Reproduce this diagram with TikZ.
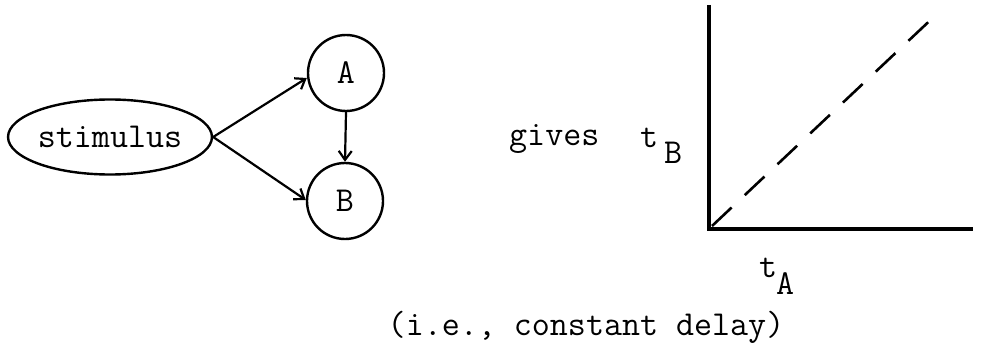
\documentclass[tikz,border=0pt]{standalone}
\usepackage{fontspec}
\usetikzlibrary{shapes.geometric,arrows.meta}
\begin{document}
\begin{tikzpicture}[x=1pt,y=-1pt,
  txt/.style={font=\ttfamily\fontsize{35}{40}\selectfont, inner sep=0pt},
  circ/.style={txt, draw, circle, line width=2.4pt, minimum size=76pt},
  oval/.style={txt, draw, ellipse, line width=2.4pt, minimum width=196pt, minimum height=75pt},
  conn/.style={line width=2.2pt, -{Straight Barb[length=9pt,width=13pt,line width=2.2pt]}},
  axis/.style={line width=3.4pt},
  diag/.style={line width=2.6pt, dash pattern=on 27pt off 18pt}]
\useasboundingbox (0,0) rectangle (981,350);
\node[oval] (stim) at (110,137) {stimulus};
\node[circ] (A) at (346,73) {A};
\node[circ] (B) at (345,201) {B};
\draw[conn] (stim.east) -- (A.west |- 0,78);
\draw[conn] (stim.east) -- (B.west |- 0,200);
\draw[conn] (A.south) -- (B.north);
\node[txt, anchor=base west] (gives) at (509,145) {gives};
\node[txt, anchor=base west] (tB) at (640,147) {t};
\node[txt, anchor=base west] (sB) at (664,163) {B};
\coordinate (O) at (709,229);
\coordinate (ytop) at (709,5);
\coordinate (xend) at (973,229);
\draw[axis] (ytop) -- (O) -- (xend);
\coordinate (d0) at (712,226);
\coordinate (d1) at (939,12);
\draw[diag] (d0) -- (d1);
\node[txt, anchor=base west] (tA) at (759,277) {t};
\node[txt, anchor=base west] (sA) at (776,294) {A};
\node[txt, anchor=base] (note) at (586,335) {(i.e., constant delay)};
\end{tikzpicture}
\end{document}
